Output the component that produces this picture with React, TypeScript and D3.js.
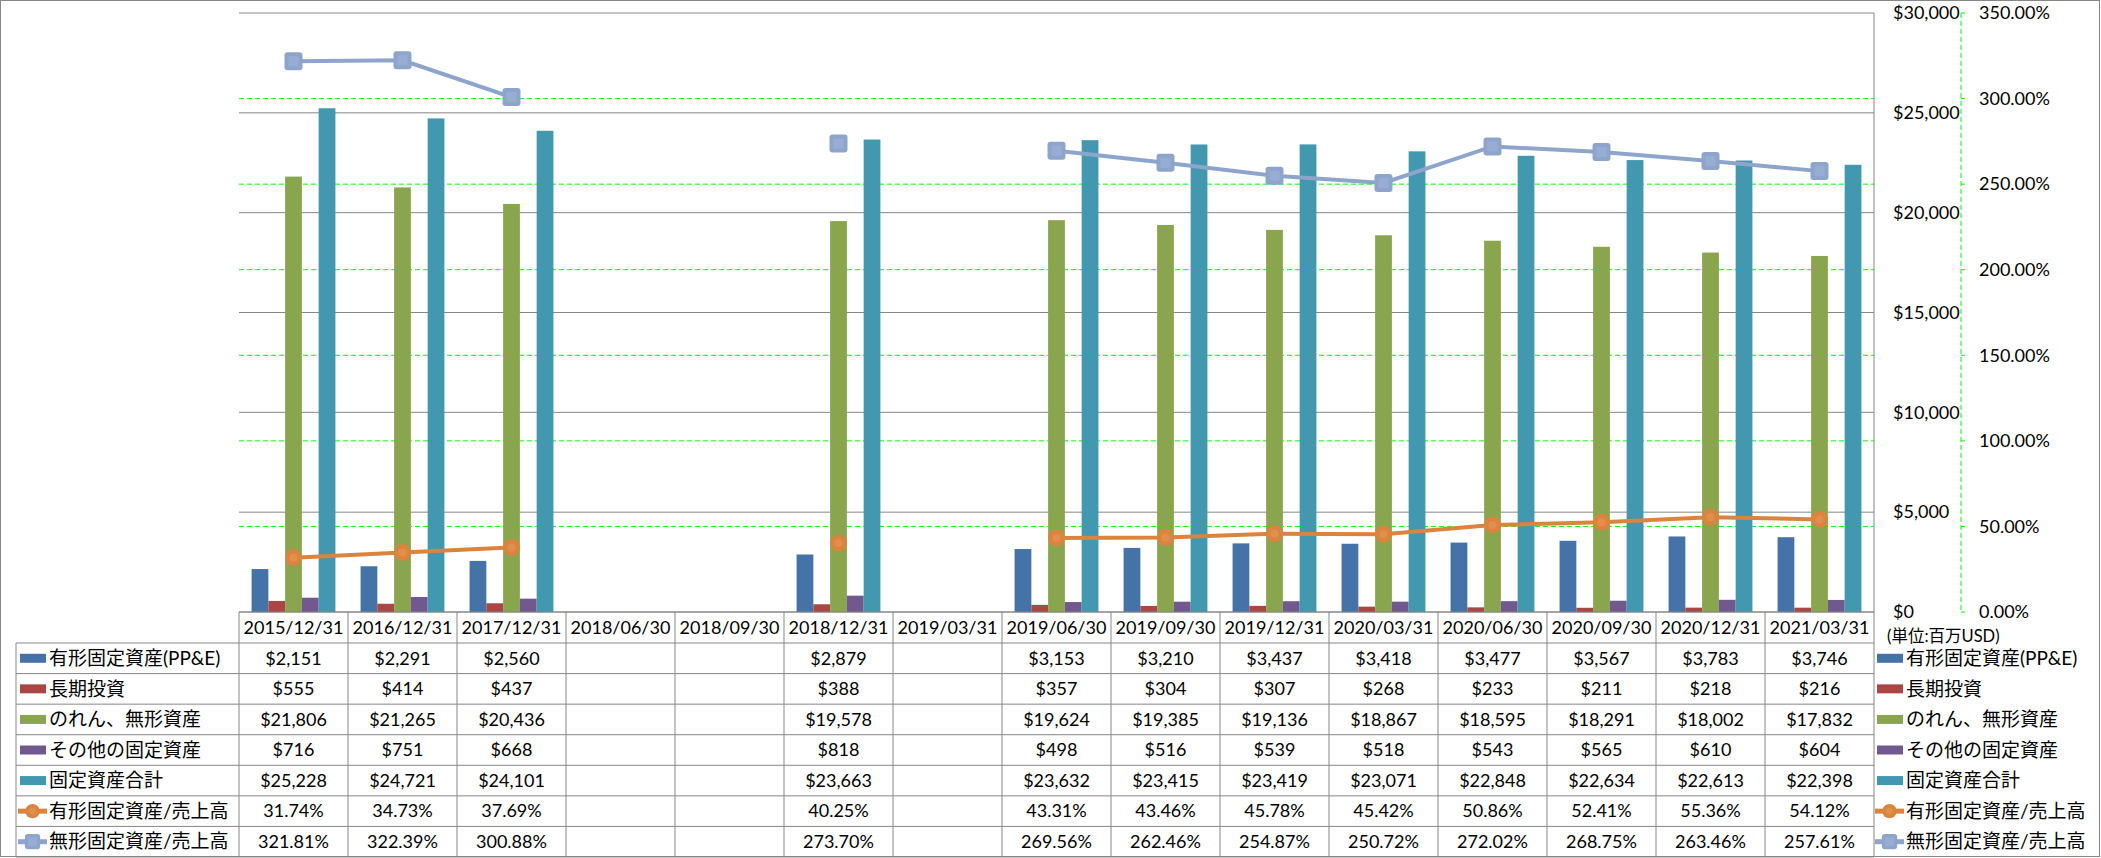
import React from "react";
import { scaleBand, scaleLinear, line, format, range } from "d3";

const categories = [
  "2015/12/31", "2016/12/31", "2017/12/31", "2018/06/30", "2018/09/30",
  "2018/12/31", "2019/03/31", "2019/06/30", "2019/09/30", "2019/12/31",
  "2020/03/31", "2020/06/30", "2020/09/30", "2020/12/31", "2021/03/31",
];

const ppe = [2151, 2291, 2560, null, null, 2879, null, 3153, 3210, 3437, 3418, 3477, 3567, 3783, 3746];
const longInvest = [555, 414, 437, null, null, 388, null, 357, 304, 307, 268, 233, 211, 218, 216];
const goodwill = [21806, 21265, 20436, null, null, 19578, null, 19624, 19385, 19136, 18867, 18595, 18291, 18002, 17832];
const otherFixed = [716, 751, 668, null, null, 818, null, 498, 516, 539, 518, 543, 565, 610, 604];
const totalFixed = [25228, 24721, 24101, null, null, 23663, null, 23632, 23415, 23419, 23071, 22848, 22634, 22613, 22398];
const ppeRatio = [31.74, 34.73, 37.69, null, null, 40.25, null, 43.31, 43.46, 45.78, 45.42, 50.86, 52.41, 55.36, 54.12];
const intangibleRatio = [321.81, 322.39, 300.88, null, null, 273.7, null, 269.56, 262.46, 254.87, 250.72, 272.02, 268.75, 263.46, 257.61];

const leftTicks = [0, 5000, 10000, 15000, 20000, 25000, 30000];
const rightTicks = [0, 50, 100, 150, 200, 250, 300, 350];

const barSeries = [
  { name: "有形固定資産(PP&E)", values: ppe, color: "#4572A7" },
  { name: "長期投資", values: longInvest, color: "#AA4643" },
  { name: "のれん、無形資産", values: goodwill, color: "#89A54E" },
  { name: "その他の固定資産", values: otherFixed, color: "#71588F" },
  { name: "固定資産合計", values: totalFixed, color: "#4198AF" },
];
const lineSeries = [
  { name: "有形固定資産/売上高", values: ppeRatio, color: "#DB843D", marker: "circle" },
  { name: "無形固定資産/売上高", values: intangibleRatio, color: "#8EA5CB", marker: "square" },
];

const width = 2101;
const height = 858;
const plot = { left: 239, right: 1874, top: 13, bottom: 612 };
const headerBottom = 643;
const rowH = (857 - headerBottom) / 7;
const font = "Lato, 'Noto Sans CJK JP', sans-serif";
const gridGrey = "#878787";
const green = "#00FF00";

const money = format("$,");

const Marker = ({ kind, x, y, color, size = 1 }) =>
  kind === "circle" ? (
    <g>
      <circle cx={x} cy={y} r={8.5 * size} fill={color} />
      <circle cx={x} cy={y} r={4 * size} fill="#E08F4E" />
    </g>
  ) : (
    <g>
      <rect x={x - 9 * size} y={y - 9 * size} width={18 * size} height={18 * size} rx={3} fill={color} />
      <rect x={x - 5 * size} y={y - 5 * size} width={10 * size} height={10 * size} fill="#98ADD4" />
    </g>
  );

const LegendKey = ({ s, x, y }) =>
  s.marker ? (
    <g>
      <line x1={x - 2} x2={x + 27} y1={y} y2={y} stroke={s.color} strokeWidth={5} />
      <Marker kind={s.marker} x={x + 12.5} y={y} color={s.color} size={0.85} />
    </g>
  ) : (
    <rect x={x} y={y - 4.5} width={26} height={9} fill={s.color} />
  );

export default function App() {
  const x0 = scaleBand().domain(categories).range([plot.left, plot.right]);
  const bw = x0.bandwidth();
  const x1 = scaleBand()
    .domain(barSeries.map((s) => s.name))
    .range([0, bw])
    .paddingInner(0)
    .paddingOuter(0.75);
  const yL = scaleLinear().domain([0, 30000]).range([plot.bottom, plot.top]);
  const yR = scaleLinear().domain([0, 350]).range([plot.bottom, plot.top]);
  const cx = (i) => x0(categories[i]) + bw / 2;

  const lineGen = line()
    .defined((d) => d != null)
    .x((d, i) => cx(i))
    .y((d) => yR(d));

  const allRows = [
    ...barSeries.map((s) => ({ ...s, fmt: (v) => money(v) })),
    ...lineSeries.map((s) => ({ ...s, fmt: (v) => v.toFixed(2) + "%" })),
  ];

  return (
    <svg
      width={width}
      height={height}
      style={{ position: "absolute", left: 0, top: 0, background: "#fff" }}
      fontFamily={font}
    >
      <rect x={0.5} y={0.5} width={width - 2} height={856} fill="#fff" stroke={gridGrey} />

      {/* primary gridlines */}
      {leftTicks.map((t) => (
        <line key={t} x1={plot.left} x2={plot.right} y1={yL(t)} y2={yL(t)} stroke={gridGrey} strokeWidth={1} />
      ))}
      {/* secondary gridlines */}
      {rightTicks.slice(1, -1).map((t) => (
        <line key={t} x1={plot.left} x2={plot.right} y1={yR(t)} y2={yR(t)} stroke={green} strokeDasharray="5,3" />
      ))}

      {/* bars */}
      {categories.map((c, i) => (
        <g key={c} transform={`translate(${x0(c)},0)`}>
          {barSeries.map((s) =>
            s.values[i] == null ? null : (
              <rect
                key={s.name}
                x={x1(s.name)}
                y={yL(s.values[i])}
                width={x1.bandwidth()}
                height={yL(0) - yL(s.values[i])}
                fill={s.color}
              />
            )
          )}
        </g>
      ))}

      {/* lines */}
      {lineSeries.map((s) => (
        <g key={s.name}>
          <path d={lineGen(s.values)} fill="none" stroke={s.color} strokeWidth={4} />
          {s.values.map((v, i) =>
            v == null ? null : <Marker key={i} kind={s.marker} x={cx(i)} y={yR(v)} color={s.color} />
          )}
        </g>
      ))}

      {/* primary axis labels (right side) */}
      {leftTicks.map((t) => (
        <text key={t} x={1893} y={yL(t)} dy="0.35em" fontSize={18}>
          {money(t)}
        </text>
      ))}

      {/* secondary axis */}
      <line x1={1961} x2={1961} y1={plot.top} y2={plot.bottom} stroke={green} strokeDasharray="5,3" />
      {rightTicks.map((t) => (
        <g key={t}>
          <line x1={1961} x2={1965} y1={yR(t)} y2={yR(t)} stroke={green} />
          <text x={1979} y={yR(t)} dy="0.35em" fontSize={18}>
            {t.toFixed(2) + "%"}
          </text>
        </g>
      ))}
      <text x={1887} y={636} dy="0.35em" fontSize={16.5}>
        (単位:百万USD)
      </text>

      {/* data table */}
      <g stroke={gridGrey} strokeWidth={1}>
        <line x1={plot.left} x2={plot.right} y1={plot.bottom} y2={plot.bottom} />
        {range(8).map((r) => (
          <line key={r} x1={16} x2={plot.right} y1={headerBottom + r * rowH} y2={headerBottom + r * rowH} />
        ))}
        <line x1={16} x2={16} y1={headerBottom} y2={857} />
        {categories.map((c) => (
          <line key={c} x1={x0(c)} x2={x0(c)} y1={plot.bottom} y2={857} />
        ))}
        <line x1={plot.right} x2={plot.right} y1={plot.top} y2={857} />
      </g>
      {categories.map((c) => (
        <text key={c} x={x0(c) + bw / 2} y={(plot.bottom + headerBottom) / 2} dy="0.35em" fontSize={18} textAnchor="middle">
          {c}
        </text>
      ))}
      {allRows.map((s, r) => {
        const yc = headerBottom + r * rowH + rowH / 2;
        return (
          <g key={s.name}>
            <LegendKey s={s} x={20} y={yc} />
            <text x={49} y={yc} dy="0.35em" fontSize={19}>
              {s.name}
            </text>
            {s.values.map((v, i) =>
              v == null ? null : (
                <text key={i} x={cx(i)} y={yc} dy="0.35em" fontSize={18} textAnchor="middle">
                  {s.fmt(v)}
                </text>
              )
            )}
            <LegendKey s={s} x={1877} y={yc} />
            <text x={1906} y={yc} dy="0.35em" fontSize={19}>
              {s.name}
            </text>
          </g>
        );
      })}
    </svg>
  );
}
